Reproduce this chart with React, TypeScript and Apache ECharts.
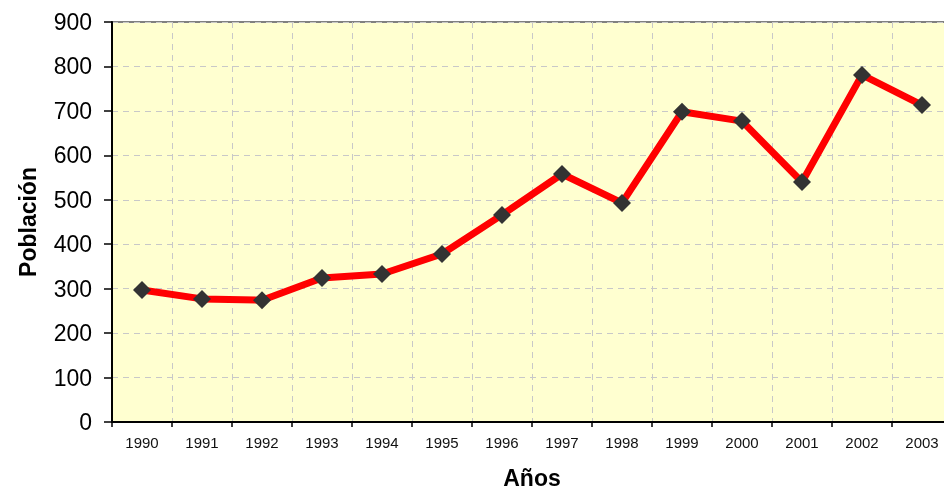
import React, { useEffect, useRef } from "react";
import * as echarts from "echarts";

const years = ["1990","1991","1992","1993","1994","1995","1996","1997","1998","1999","2000","2001","2002","2003"];
const population = [297, 277, 274, 324, 333, 378, 466, 558, 493, 698, 677, 540, 781, 713];

export default function App() {
  const ref = useRef<HTMLDivElement>(null);
  useEffect(() => {
    if (!ref.current) return;
    const chart = echarts.init(ref.current, null, { renderer: "svg" });
    chart.setOption({
      animation: false,
      grid: {
        left: 112, top: 22, right: 8, bottom: 67,
        outerBoundsMode: "none",
        containLabel: false,
        show: true, backgroundColor: "#FFFFD0", borderColor: "#808080", borderWidth: 2,
      },
      xAxis: {
        type: "category",
        data: years,
        boundaryGap: true,
        name: "Años",
        nameLocation: "middle",
        nameGap: 44,
        nameTextStyle: { fontFamily: "Arial, Liberation Sans, sans-serif", fontWeight: "bold", fontSize: 23, color: "#000" },
        axisLine: { lineStyle: { color: "#000", width: 2 } },
        axisTick: { show: true, length: 5, lineStyle: { color: "#000", width: 1.5 } },
        axisLabel: { fontFamily: "Arial, Liberation Sans, sans-serif", fontSize: 15, color: "#111", margin: 13 },
        splitLine: { show: true, lineStyle: { color: "#C8C8C8", type: [6, 5], width: 1 } },
      },
      yAxis: {
        type: "value",
        min: 0, max: 900, interval: 100,
        name: "Población",
        nameLocation: "middle",
        nameGap: 73,
        nameTextStyle: { fontFamily: "Arial, Liberation Sans, sans-serif", fontWeight: "bold", fontSize: 23, color: "#000" },
        axisLine: { show: true, lineStyle: { color: "#000", width: 2 } },
        axisTick: { show: true, length: 8, lineStyle: { color: "#000", width: 1.5 } },
        axisLabel: { fontFamily: "Arial, Liberation Sans, sans-serif", fontSize: 23, color: "#000", margin: 20 },
        splitLine: { show: true, lineStyle: { color: "#C8C8C8", type: [6, 5], width: 1 } },
      },
      series: [{
        type: "line",
        data: population,
        lineStyle: { color: "#FF0000", width: 7 },
        itemStyle: { color: "#333333" },
        symbol: "diamond",
        symbolSize: 18,
        z: 5,
      }],
    });
    return () => chart.dispose();
  }, []);
  return (
    <div style={{ position: "fixed", left: 0, top: 0, width: 944, height: 489, overflow: "hidden" }}>
      <div ref={ref} style={{ width: 960, height: 489 }} />
    </div>
  );
}
